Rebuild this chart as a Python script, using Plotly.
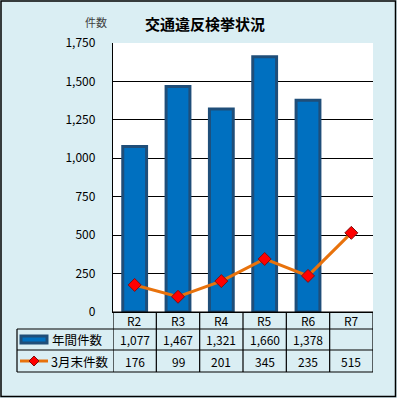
import plotly.graph_objects as go

# ---- data ----
categories = ["R2", "R3", "R4", "R5", "R6", "R7"]
annual_counts = [1077, 1467, 1321, 1660, 1378, None]
march_counts = [176, 99, 201, 345, 235, 515]
series_names = ["年間件数", "3月末件数"]
title_text = "交通違反検挙状況"
y_unit_label = "件数"
y_ticks = [0, 250, 500, 750, 1000, 1250, 1500, 1750]

W, H = 397, 398
def px(x):
    return x / W
def py(y):
    return 1 - y / H

BG = "#DAEEF3"
BAR_FILL = "#0070C0"
BAR_LINE = "#1F4E79"
LINE_COL = "#E8720C"
MK_LINE = "#7F1010"
FONT = "Noto Sans CJK JP"

fig = go.Figure()
fig.add_trace(go.Bar(
    x=categories, y=annual_counts, name=series_names[0], width=0.55,
    marker=dict(color=BAR_FILL, line=dict(color=BAR_LINE, width=3)),
    showlegend=False, hoverinfo="skip",
))
fig.add_trace(go.Scatter(
    x=categories, y=march_counts, name=series_names[1], mode="lines+markers",
    line=dict(color=LINE_COL, width=3),
    marker=dict(symbol="diamond", size=10, color="#FF0000", line=dict(color=MK_LINE, width=1)),
    showlegend=False, hoverinfo="skip",
))

plot_left, plot_right = 113, 373
leg_left = 17
row_y = [312, 329, 350, 372]

shapes = []
lc = dict(color="black", width=1.2)
shapes.append(dict(type="line", xref="x", yref="paper", x0=-0.5, x1=5.5, y0=py(row_y[0]), y1=py(row_y[0]), line=lc))
for ry in row_y[1:]:
    shapes.append(dict(type="line", xref="paper", yref="paper", x0=px(leg_left), x1=px(plot_right), y0=py(ry), y1=py(ry), line=lc))
for i in range(len(categories) + 1):
    shapes.append(dict(type="line", xref="x", yref="paper", x0=i - 0.5, x1=i - 0.5, y0=py(row_y[0]), y1=py(row_y[3]), line=lc))
shapes.append(dict(type="line", xref="paper", yref="paper", x0=px(leg_left), x1=px(leg_left), y0=py(row_y[1]), y1=py(row_y[3]), line=lc))
r2c = (row_y[1] + row_y[2]) / 2
r3c = (row_y[2] + row_y[3]) / 2
shapes.append(dict(type="rect", xref="paper", yref="paper", x0=px(21), x1=px(47), y0=py(r2c + 3.5), y1=py(r2c - 3.5),
                   fillcolor=BAR_FILL, line=dict(color=BAR_LINE, width=3)))
shapes.append(dict(type="line", xref="paper", yref="paper", x0=px(20), x1=px(48), y0=py(r3c), y1=py(r3c),
                   line=dict(color=LINE_COL, width=3)))
dx, dy = 5, 5
cx = 34
shapes.append(dict(type="path", xref="paper", yref="paper",
                   path=f"M {px(cx-dx)} {py(r3c)} L {px(cx)} {py(r3c-dy)} L {px(cx+dx)} {py(r3c)} L {px(cx)} {py(r3c+dy)} Z",
                   fillcolor="#FF0000", line=dict(color=MK_LINE, width=1)))
shapes.append(dict(type="rect", xref="paper", yref="paper", x0=px(1), x1=px(395.5), y0=py(396.5), y1=py(1),
                   line=dict(color="black", width=1.5)))

ann = []
tf = dict(family=FONT, size=12, color="black")
r1c = (row_y[0] + row_y[1]) / 2
for i, c in enumerate(categories):
    ann.append(dict(x=c, xref="x", y=py(r1c), yref="paper", text=c, showarrow=False, font=tf, xanchor="center", yanchor="middle"))
    v = annual_counts[i]
    if v is not None:
        ann.append(dict(x=c, xref="x", y=py(r2c), yref="paper", text=f"{v:,}", showarrow=False, font=tf, xanchor="center", yanchor="middle"))
    ann.append(dict(x=c, xref="x", y=py(r3c), yref="paper", text=f"{march_counts[i]:,}", showarrow=False, font=tf, xanchor="center", yanchor="middle"))
ann.append(dict(x=px(50), xref="paper", y=py(r2c), yref="paper", text=series_names[0], showarrow=False, font=dict(family=FONT, size=12.5, color="black"), xanchor="left", yanchor="middle"))
ann.append(dict(x=px(49), xref="paper", y=py(r3c), yref="paper", text=series_names[1], showarrow=False, font=dict(family=FONT, size=12.5, color="black"), xanchor="left", yanchor="middle"))
ann.append(dict(x=px(96), xref="paper", y=py(22), yref="paper", text=y_unit_label, showarrow=False, font=dict(family=FONT, size=11, color="#404040"), xanchor="center", yanchor="middle"))

fig.update_layout(
    width=W, height=H,
    margin=dict(l=0, r=0, t=0, b=0, pad=0, autoexpand=False),
    paper_bgcolor=BG, plot_bgcolor="white",
    title=dict(text=f"<b>{title_text}</b>", x=205 / W, y=py(25), xanchor="center", yanchor="middle",
               font=dict(family=FONT, size=15, color="black")),
    xaxis=dict(domain=[px(plot_left), px(plot_right)], type="category", range=[-0.5, 5.5],
               showticklabels=False, showgrid=False, showline=True, linecolor="black", linewidth=1.2,
               zeroline=False, fixedrange=True, automargin=False),
    yaxis=dict(domain=[py(312), py(43)], range=[0, 1750], tickvals=y_ticks, tickformat=",",
               showgrid=True, gridcolor="black", gridwidth=1.2, showline=True, linecolor="black", linewidth=1.2,
               zeroline=False, ticks="outside", ticklen=14, tickcolor="rgba(0,0,0,0)", automargin=False,
               tickfont=dict(family=FONT, size=12, color="black"), fixedrange=True),
    shapes=shapes, annotations=ann, showlegend=False,
)

fig.write_html("out.html", config={"displayModeBar": False, "staticPlot": True},
               post_script="document.body.style.margin='0';document.body.style.padding='0';")
